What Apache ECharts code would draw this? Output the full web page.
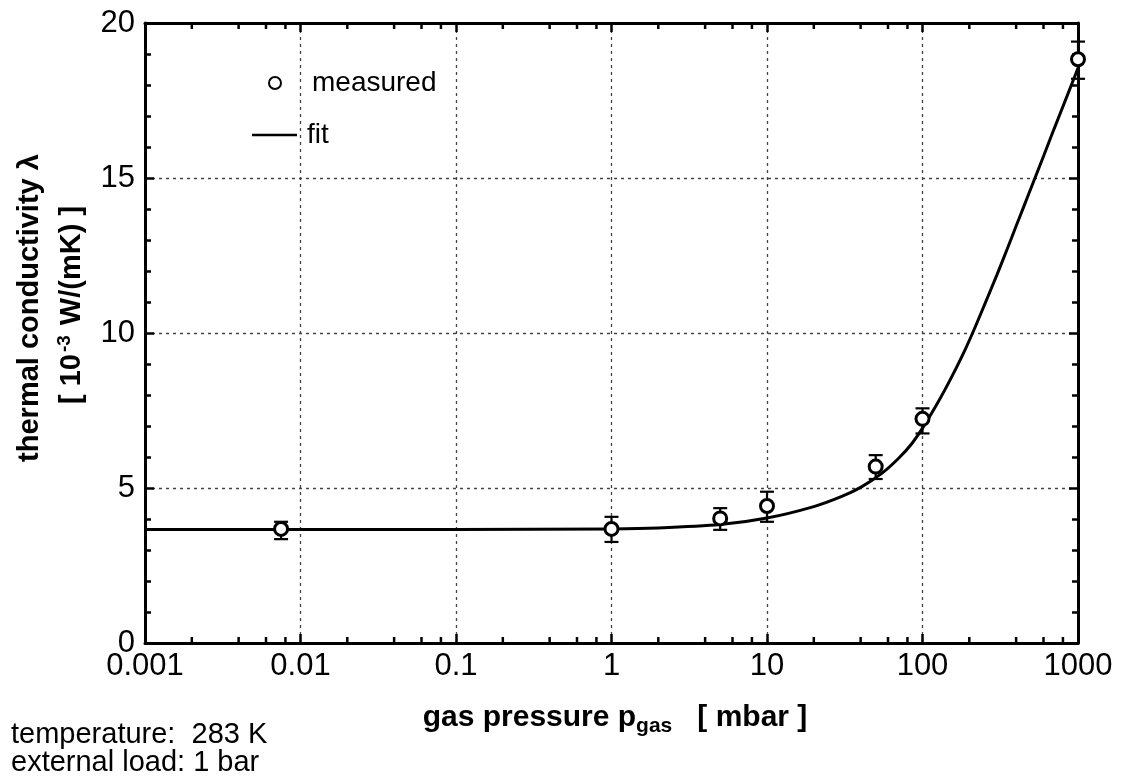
<!DOCTYPE html>
<html>
<head>
<meta charset="utf-8">
<script src="https://cdn.jsdelivr.net/npm/echarts@6/dist/echarts.min.js"></script>
<style>
html,body{margin:0;padding:0;background:#fff;}
#chart{width:1122px;height:776px;}
</style>
</head>
<body>
<div id="chart"></div>
<script>
// ---- data ----
const measuredP = [0.0075, 1, 5, 10, 50, 100, 1000];
const measuredK = [3.68, 3.68, 4.02, 4.42, 5.69, 7.23, 18.83];
const errLow    = [3.35, 3.26, 3.65, 3.91, 5.29, 6.76, 18.2];
const errHigh   = [3.91, 4.07, 4.35, 4.88, 6.06, 7.57, 19.4];
const fitP = [0.001, 0.01, 0.1, 1, 2, 5, 10, 20, 30, 40, 55, 70, 85, 100, 125, 150, 180, 210, 250, 300, 350, 400, 450, 510, 600, 700, 850, 1000];
const fitK = [3.66, 3.66, 3.66, 3.68, 3.71, 3.82, 4.03, 4.40, 4.72, 5.02, 5.48, 5.95, 6.42, 6.93, 7.74, 8.47, 9.26, 10.0, 10.9, 11.86, 12.7, 13.45, 14.1, 14.8, 15.7, 16.57, 17.64, 18.55];
const xTickValues = [0.001, 0.01, 0.1, 1, 10, 100, 1000];
const xTickLabels = ['0.001', '0.01', '0.1', '1', '10', '100', '1000'];
const xMinorTicks = [];
[0.001, 0.01, 0.1, 1, 10, 100].forEach(d => [2, 4, 6, 8].forEach(m => xMinorTicks.push(+(d * m).toPrecision(3))));
const yTickLabels = ['0', '5', '10', '15', '20'];

const chart = echarts.init(document.getElementById('chart'));
const FONT = '"Liberation Sans", Arial, sans-serif';
const axisLine = {show: true, onZero: false, lineStyle: {color: '#000', width: 3}};
const gridDots = {show: true, lineStyle: {color: '#444', width: 1.3, type: [3, 4]}};

const option = {
  backgroundColor: '#fff',
  animation: false,
  grid: {left: 145, right: 44, top: 23, bottom: 133, containLabel: false},
  legend: [
    {data: ['measured'], orient: 'vertical', left: 263, top: 64, itemWidth: 12, itemHeight: 12,
     textStyle: {fontFamily: FONT, fontSize: 28, color: '#000', padding: [0, 0, 0, 26]}, selectedMode: false},
    {data: [{name: 'fit', icon: 'rect'}], orient: 'vertical', left: 247, top: 116, itemWidth: 45, itemHeight: 2.5,
     textStyle: {fontFamily: FONT, fontSize: 28, color: '#000', padding: [0, 0, 0, 5]}, selectedMode: false}
  ],
  xAxis: [
    {type: 'log', logBase: 10, min: 0.001, max: 1000, position: 'bottom',
     axisLine: axisLine,
     axisTick: {show: true, inside: true, length: 9, lineStyle: {color: '#000', width: 2.5}},
     axisLabel: {fontFamily: FONT, fontSize: 31, color: '#000', margin: 8,
       formatter: v => { const i = xTickValues.findIndex(t => Math.abs(Math.log10(t) - Math.log10(v)) < 1e-6); return i >= 0 ? xTickLabels[i] : ''; }},
     splitLine: gridDots},
    {type: 'log', logBase: 10, min: 0.001, max: 1000, position: 'top',
     axisLine: axisLine,
     axisTick: {show: true, inside: true, length: 9, lineStyle: {color: '#000', width: 2.5}},
     axisLabel: {show: false}, splitLine: {show: false}}
  ],
  yAxis: [
    {type: 'value', min: 0, max: 20, interval: 5, position: 'left',
     axisLine: axisLine,
     axisTick: {show: true, inside: true, length: 9, lineStyle: {color: '#000', width: 2.5}},
     minorTick: {show: true, splitNumber: 5, length: 6, lineStyle: {color: '#000', width: 2.5}},
     axisLabel: {fontFamily: FONT, fontSize: 31, color: '#000', margin: 10,
       formatter: v => yTickLabels[Math.round(v / 5)]},
     splitLine: gridDots},
    {type: 'value', min: 0, max: 20, interval: 5, position: 'right',
     axisLine: axisLine,
     axisTick: {show: true, inside: true, length: 9, lineStyle: {color: '#000', width: 2.5}},
     minorTick: {show: true, splitNumber: 5, length: 6, lineStyle: {color: '#000', width: 2.5}},
     axisLabel: {show: false}, splitLine: {show: false}}
  ],
  series: [
    {name: 'fit', type: 'line', xAxisIndex: 0, yAxisIndex: 0, smooth: 0.25, symbol: 'none', showSymbol: false,
     data: fitP.map((p, i) => [p, fitK[i]]),
     lineStyle: {color: '#000', width: 3}, itemStyle: {color: '#000'}, z: 3},
    {name: 'errorbars', type: 'custom', xAxisIndex: 0, yAxisIndex: 0,
     data: measuredP.map((p, i) => [p, errLow[i], errHigh[i]]),
     renderItem: (params, api) => {
       const lo = api.coord([api.value(0), api.value(1)]);
       const hi = api.coord([api.value(0), api.value(2)]);
       const w = 7;
       const st = {stroke: '#000', lineWidth: 2.2};
       return {type: 'group', children: [
         {type: 'line', shape: {x1: lo[0], y1: lo[1], x2: hi[0], y2: hi[1]}, style: st},
         {type: 'line', shape: {x1: lo[0] - w, y1: lo[1], x2: lo[0] + w, y2: lo[1]}, style: st},
         {type: 'line', shape: {x1: hi[0] - w, y1: hi[1], x2: hi[0] + w, y2: hi[1]}, style: st}
       ]};
     }, z: 4},
    {name: 'measured', type: 'scatter', xAxisIndex: 0, yAxisIndex: 0, symbol: 'circle', symbolSize: 13,
     data: measuredP.map((p, i) => [p, measuredK[i]]),
     itemStyle: {color: '#fff', borderColor: '#000', borderWidth: 3, opacity: 1}, z: 5},
    {name: 'minorTicks', type: 'custom', xAxisIndex: 0, yAxisIndex: 0,
     data: xMinorTicks.map(p => [p, 0]),
     renderItem: (params, api) => {
       const x = api.coord([api.value(0), 0])[0];
       const cs = params.coordSys;
       const st = {stroke: '#000', lineWidth: 2.5};
       return {type: 'group', children: [
         {type: 'line', shape: {x1: x, y1: cs.y + cs.height, x2: x, y2: cs.y + cs.height - 6}, style: st},
         {type: 'line', shape: {x1: x, y1: cs.y, x2: x, y2: cs.y + 6}, style: st}
       ]};
     }, z: 6, silent: true}
  ],
  graphic: [
    {type: 'text', x: 30, y: 308, rotation: Math.PI / 2,
     style: {text: 'thermal conductivity λ', fontFamily: FONT, fontSize: 29, fontWeight: 'bold', fill: '#000',
       align: 'center', verticalAlign: 'middle'}},
    {type: 'text', x: 72, y: 305, rotation: Math.PI / 2,
     style: {text: '[ 10{sup|-3} W/(mK) ]', fontFamily: FONT, fontSize: 29, fontWeight: 'bold', fill: '#000',
       align: 'center', verticalAlign: 'middle',
       rich: {sup: {fontFamily: FONT, fontSize: 19, fontWeight: 'bold', fill: '#000', padding: [0, 2, 14, 2]}}}},
    {type: 'text', x: 615, y: 718,
     style: {text: 'gas pressure p{sub|gas}   [ mbar ]', fontFamily: FONT, fontSize: 30, fontWeight: 'bold', fill: '#000',
       align: 'center', verticalAlign: 'middle',
       rich: {sub: {fontFamily: FONT, fontSize: 21, fontWeight: 'bold', fill: '#000', padding: [16, 0, 0, 0]}}}},
    {type: 'text', x: 11, y: 735,
     style: {text: 'temperature:  283 K', fontFamily: FONT, fontSize: 29, fill: '#000', align: 'left', verticalAlign: 'middle'}},
    {type: 'text', x: 11, y: 763,
     style: {text: 'external load: 1 bar', fontFamily: FONT, fontSize: 29, fill: '#000', align: 'left', verticalAlign: 'middle'}}
  ]
};
chart.setOption(option);
</script>
</body>
</html>
